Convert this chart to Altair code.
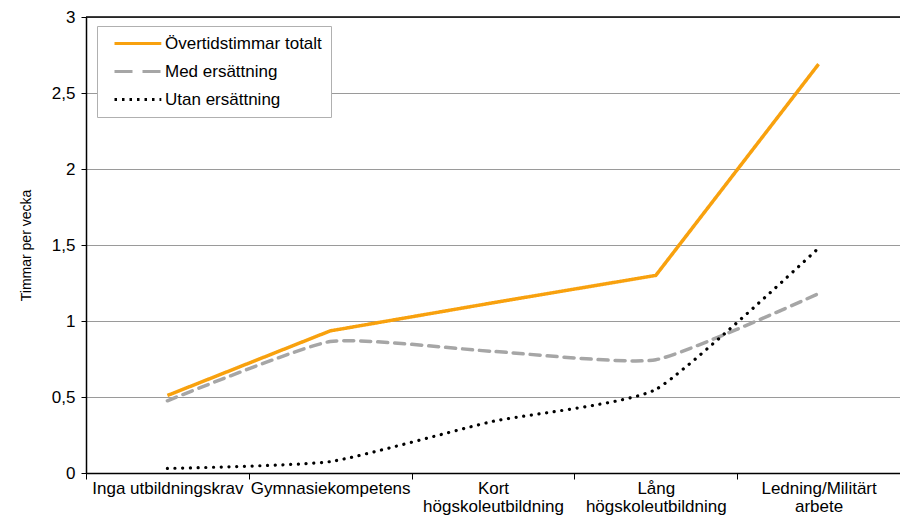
import altair as alt
import pandas as pd

categories = ["Inga utbildningskrav", "Gymnasiekompetens", "Kort\nhögskoleutbildning",
              "Lång\nhögskoleutbildning", "Ledning/Militärt\narbete"]
series_names = ["Övertidstimmar totalt", "Med ersättning", "Utan ersättning"]
totalt = [0.51, 0.935, 1.12, 1.30, 2.69]
med = [0.475, 0.865, 0.80, 0.745, 1.18]
utan = [0.03, 0.075, 0.34, 0.55, 1.48]
y_ticks = [0, 0.5, 1, 1.5, 2, 2.5, 3]

rows = []
for name, vals in zip(series_names, [totalt, med, utan]):
    for c, v in zip(categories, vals):
        rows.append({"cat": c, "serie": name, "v": v})
df = pd.DataFrame(rows)

colors = ["#F8A10E", "#A6A6A6", "#000000"]
legend_dashes = [[1, 0], [18, 10], [2.5, 5]]
FONT = "Liberation Sans"

xenc = alt.X("cat:N", sort=categories, bandPosition=0.5,
             scale=alt.Scale(type="band", paddingInner=0, paddingOuter=0),
             axis=alt.Axis(title=None, tickBand="extent", labelAngle=0,
                           labelExpr="split(datum.label, '\\n')",
                           labelFont=FONT, labelFontSize=17,
                           labelColor="#000000", labelLineHeight=18,
                           labelPadding=1, tickSize=6, tickColor="#000000",
                           domainColor="#000000", domainWidth=1.5, grid=False,
                           labelLimit=250))
yenc = alt.Y("v:Q", scale=alt.Scale(domain=[0, 3], nice=False),
             axis=alt.Axis(title="Timmar per vecka", values=y_ticks,
                           labelExpr="replace(format(datum.value, '~g'), '.', ',')",
                           titleFont=FONT, titleFontSize=14,
                           titleFontWeight="normal", titleColor="#000000",
                           titlePadding=18,
                           labelFont=FONT, labelFontSize=17,
                           labelColor="#000000", labelPadding=6,
                           tickSize=5, tickColor="#000000",
                           domainColor="#000000", domainWidth=1.5,
                           gridColor="#9A9A9A", gridWidth=1.2))

base = alt.Chart(df)

def line(name, color, dash, interp, width=3, cap="butt", tension=None):
    kw = dict(color=color, strokeDash=dash, strokeWidth=width,
              strokeCap=cap, interpolate=interp)
    if tension is not None:
        kw["tension"] = tension
    return base.transform_filter(alt.datum.serie == name).mark_line(**kw).encode(x=xenc, y=yenc)

legend_layer = base.mark_line(opacity=0).encode(
    x=xenc, y=yenc,
    color=alt.Color("serie:N", sort=series_names,
                    scale=alt.Scale(domain=series_names, range=colors),
                    legend=alt.Legend(
                        title=None, orient="none", legendX=11, legendY=9,
                        symbolType="M0,0L7.8,0", symbolSize=144, symbolStrokeWidth=3,
                        labelFont=FONT, labelFontSize=17,
                        labelColor="#000000", rowPadding=10, labelOffset=42,
                        padding=9, strokeColor="#B0B0B0", fillColor="#FFFFFF",
                        symbolOpacity=1)),
    strokeDash=alt.StrokeDash("serie:N", sort=series_names,
                              scale=alt.Scale(domain=series_names, range=legend_dashes),
                              legend=None),
)

top_rule = alt.Chart(pd.DataFrame({"v": [3]})).mark_rule(color="#000000", strokeWidth=1.5).encode(
    y=alt.Y("v:Q", scale=alt.Scale(domain=[0, 3], nice=False)))

chart = alt.layer(
    top_rule,
    line("Med ersättning", colors[1], [10, 7], "cardinal", 3.5, "round", 0.5),
    line("Utan ersättning", colors[2], [0.1, 7.6], "cardinal", 3.2, "round", 0.5),
    line("Övertidstimmar totalt", colors[0], [1, 0], "linear", 3.5),
    legend_layer,
).properties(
    width=814, height=456,
    autosize=alt.AutoSizeParams(type="none"),
    padding={"left": 78, "top": 9, "right": 0, "bottom": 42},
    background="#FFFFFF",
).configure_view(stroke=None)

chart.save("out.html", embed_options={"renderer": "svg", "actions": False})
